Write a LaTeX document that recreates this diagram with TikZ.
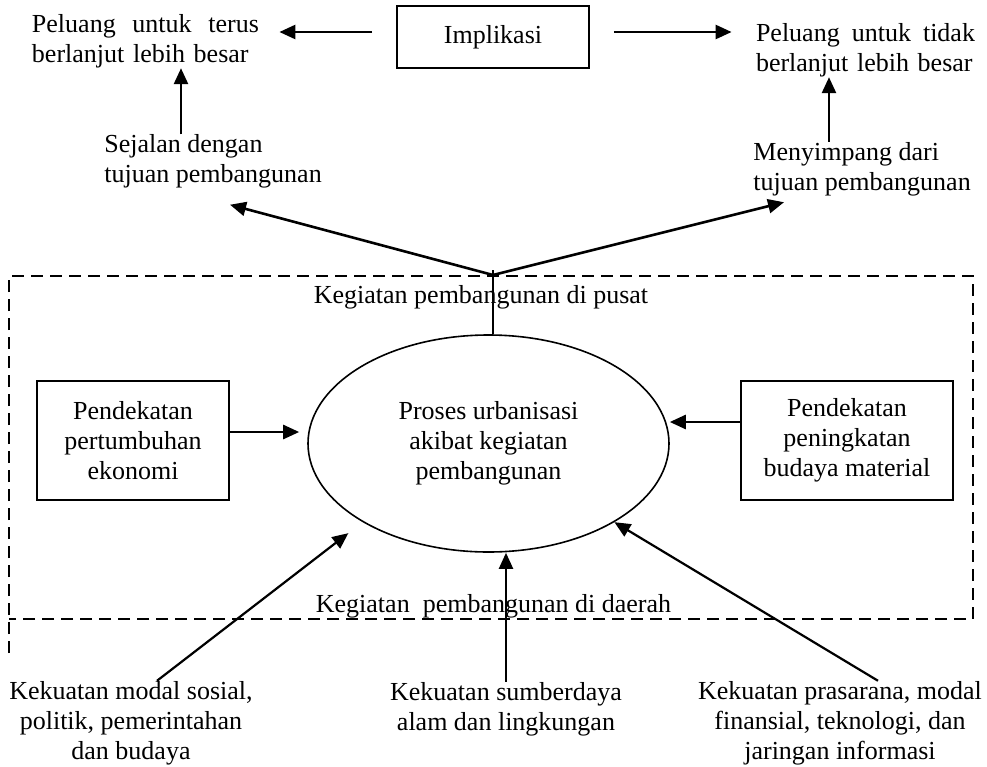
\documentclass[tikz,border=0pt]{standalone}
\usepackage{fontspec}
\setmainfont{Liberation Serif}
\usepackage{tikz}
\usetikzlibrary{shapes.geometric, arrows.meta, positioning}
\usetikzlibrary{calc}

\begin{document}
\begin{tikzpicture}[x=0.5pt, y=-0.5pt, >={Triangle[length=8pt,width=7pt]},
	every node/.style={font=\fontsize{13}{15}\selectfont, inner sep=0pt},
	kotak/.style={draw, line width=0.9pt, minimum height=59.5pt, align=center},
	panah/.style={->, line width=1.3pt}]
		\useasboundingbox (0,0) rectangle (987,767);
		\draw (493,37) node[kotak, minimum width=96pt, minimum height=31pt] (impl) {Implikasi}
		(145.5,41) node[text width=113.5pt, align=left] (terus) {Peluang\hfill untuk\hfill terus\\berlanjut lebih besar}
		(865.5,50) node[text width=109.5pt, align=left] (tidak) {Peluang\hfill untuk\hfill tidak\\berlanjut lebih besar}
		(104,161.5) node[anchor=west, align=left] (sejalan) {Sejalan dengan\\tujuan pembangunan}
		(753,169) node[anchor=west, align=left] (menyimpang) {Menyimpang dari\\tujuan pembangunan}
		(481,297) node (pusat) {Kegiatan pembangunan di pusat}
		(488.5,443.5) node[ellipse, draw, line width=0.8pt, minimum width=180.5pt, minimum height=108.5pt, align=center] (ell) {Proses urbanisasi\\akibat kegiatan\\pembangunan}
		(133,440.5) node[kotak, minimum width=96pt] (pend1) {Pendekatan\\pertumbuhan\\ekonomi}
		(847,440.5) node[kotak, minimum width=106pt] (pend2) {Pendekatan\\peningkatan\\budaya material}
		(493.5,606) node (daerah) {Kegiatan\ \ pembangunan di daerah}
		(131,723) node[align=center] (modal) {Kekuatan modal sosial,\\politik, pemerintahan\\dan budaya}
		(506,709) node[align=center] (sumber) {Kekuatan sumberdaya\\alam dan lingkungan}
		(840,723) node[align=center] (pras) {Kekuatan prasarana, modal\\finansial, teknologi, dan\\jaringan informasi};
		
		% kotak putus-putus
		\draw[dash pattern=on 6pt off 3.5pt, line width=0.9pt] (9,653) -- (9,276) -- (973,276) -- (973,619) -- (9,619);
		
		\coordinate (J) at (493,275);
		\coordinate (s1) at ([xshift=38.5pt]sejalan.north west);
		\coordinate (m1) at ([xshift=38pt]menyimpang.north west);
		\coordinate (p1) at ([yshift=4.25pt]pend1.east);
		\coordinate (p2) at ([yshift=9.25pt]pend2.west);
		
		\draw[panah, shorten <=12pt, shorten >=10pt] ([yshift=2.5pt]impl.west) -- ([yshift=2.5pt]impl.west -| terus.east);
		\draw[panah, shorten <=12pt, shorten >=12pt] ([yshift=2.5pt]impl.east) -- ([yshift=2.5pt]impl.east -| tidak.west);
		\draw[panah] (s1) -- (s1 |- terus.south);
		\draw[panah] (m1) -- (m1 |- tidak.south);
		\draw[panah] (J) -- ([xshift=63pt,yshift=-8pt]sejalan.south west);
		\draw[panah] (J) -- ([xshift=15.5pt,yshift=-3pt]menyimpang.south west);
		\draw[line width=0.8pt] ([yshift=2.5pt]J) -- (J |- ell.north);
		\draw[panah, shorten >=4pt] (p1) -- (p1 -| ell.west);
		\draw[panah] (p2) -- (p2 -| ell.east);
		\draw[panah, line width=1.1pt, shorten >=9pt] ([xshift=13pt]modal.north) -- (ell.212);
		\draw[panah, line width=1.1pt] (sumber.north) -- (sumber.north |- ell.south);
		\draw[panah, line width=1.1pt] ([xshift=19pt]pras.north) -- (ell.328);
	\end{tikzpicture}
\end{document}
